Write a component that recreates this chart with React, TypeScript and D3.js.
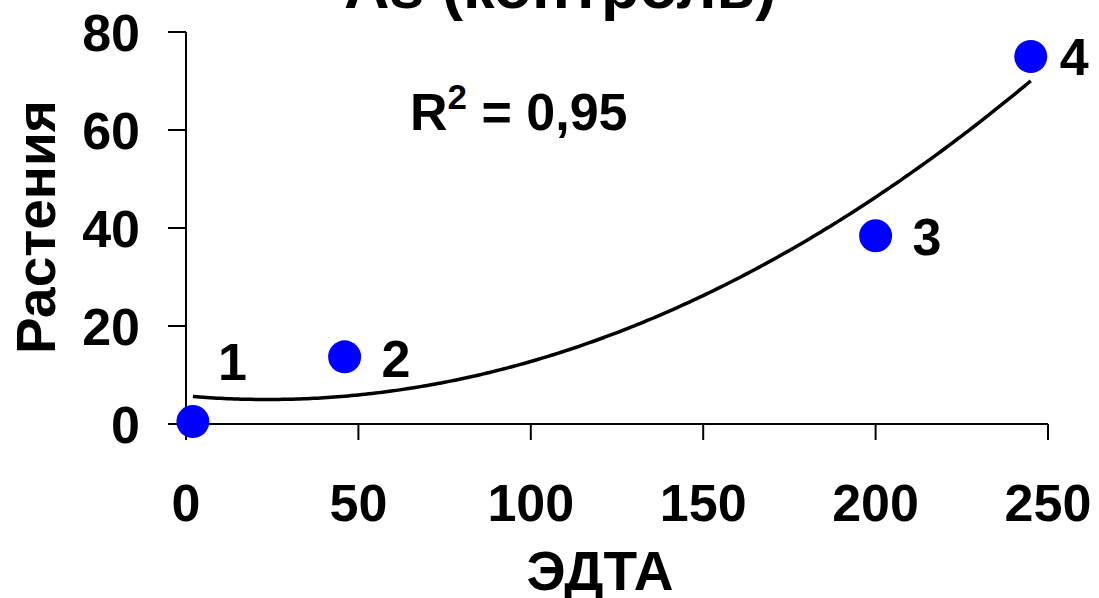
import React from "react";
import * as d3 from "d3";

const pointX = [2, 46, 200, 245];
const pointY = [0.5, 13.7, 38.4, 75];
const pointLabels = ["1", "2", "3", "4"];
const xTicks = [0, 50, 100, 150, 200, 250];
const yTicks = [0, 20, 40, 60, 80];
const titleText = "As (контроль)";
const xTitle = "ЭДТА";
const yTitle = "Растения";
const r2Text = "0,95";

// least squares quadratic fit (Excel-style polynomial trendline)
function quadFit(xs: number[], ys: number[]) {
  const n = xs.length;
  let s0 = n, s1 = 0, s2 = 0, s3 = 0, s4 = 0, t0 = 0, t1 = 0, t2 = 0;
  for (let i = 0; i < n; i++) {
    const x = xs[i], y = ys[i];
    s1 += x; s2 += x * x; s3 += x * x * x; s4 += x * x * x * x;
    t0 += y; t1 += x * y; t2 += x * x * y;
  }
  const M = [
    [s0, s1, s2, t0],
    [s1, s2, s3, t1],
    [s2, s3, s4, t2],
  ];
  for (let i = 0; i < 3; i++) {
    for (let j = i + 1; j < 3; j++) {
      const f = M[j][i] / M[i][i];
      for (let k = i; k < 4; k++) M[j][k] -= f * M[i][k];
    }
  }
  const c = [0, 0, 0];
  for (let i = 2; i >= 0; i--) {
    let s = M[i][3];
    for (let k = i + 1; k < 3; k++) s -= M[i][k] * c[k];
    c[i] = s / M[i][i];
  }
  return (x: number) => c[0] + c[1] * x + c[2] * x * x;
}

export default function App() {
  const W = 1099, H = 598;
  const x = d3.scaleLinear().domain([0, 250]).range([186, 1048]);
  const y = d3.scaleLinear().domain([0, 80]).range([424, 32]);
  const fit = quadFit(pointX, pointY);
  const xs = d3.range(pointX[0], pointX[pointX.length - 1] + 0.01, 1);
  const line = d3
    .line<number>()
    .x((d) => x(d))
    .y((d) => y(fit(d)));
  const font = "'Liberation Sans', Arial, sans-serif";
  const labelOffsets = [
    { dx: 25, dy: -42 },
    { dx: 37, dy: 20 },
    { dx: 37, dy: 19 },
    { dx: 29, dy: 18 },
  ];
  return (
    <svg
      width={W}
      height={H}
      style={{ position: "absolute", left: 0, top: 0, background: "#fff" }}
      fontFamily={font}
      fontWeight="bold"
    >
      <text x={560} y={8} fontSize={63} textAnchor="middle">
        {titleText}
      </text>
      {/* axes */}
      <line x1={x(0)} x2={x(0)} y1={y(80)} y2={y(0) + 16} stroke="#000" strokeWidth={2} />
      <line x1={x(0) - 18} x2={x(250)} y1={y(0)} y2={y(0)} stroke="#000" strokeWidth={2} />
      {yTicks.map((t) => (
        <g key={"y" + t}>
          <line x1={x(0) - 18} x2={x(0)} y1={y(t)} y2={y(t)} stroke="#000" strokeWidth={2} />
          <text x={140} y={y(t)} dy="0.36em" fontSize={52} textAnchor="end">
            {t}
          </text>
        </g>
      ))}
      {xTicks.map((t) => (
        <g key={"x" + t}>
          <line x1={x(t)} x2={x(t)} y1={y(0)} y2={y(0) + 16} stroke="#000" strokeWidth={2} />
          <text x={x(t)} y={521} fontSize={52} textAnchor="middle">
            {t}
          </text>
        </g>
      ))}
      <text x={600} y={590} fontSize={55} textAnchor="middle">
        {xTitle}
      </text>
      <text
        transform={`translate(55,227) rotate(-90)`}
        fontSize={55}
        textAnchor="middle"
      >
        {yTitle}
      </text>
      {/* trendline */}
      <path d={line(xs) || ""} fill="none" stroke="#000" strokeWidth={3.5} />
      {/* points */}
      {pointX.map((px, i) => (
        <g key={"p" + i}>
          <circle cx={x(px)} cy={y(pointY[i])} r={16.5} fill="#0000ff" />
          <text
            x={x(px) + labelOffsets[i].dx}
            y={y(pointY[i]) + labelOffsets[i].dy}
            fontSize={52}
          >
            {pointLabels[i]}
          </text>
        </g>
      ))}
      <text x={410} y={130} fontSize={52}>
        R<tspan fontSize={35} dy={-21}>2</tspan>
        <tspan dy={21}>{" = " + r2Text}</tspan>
      </text>
    </svg>
  );
}
